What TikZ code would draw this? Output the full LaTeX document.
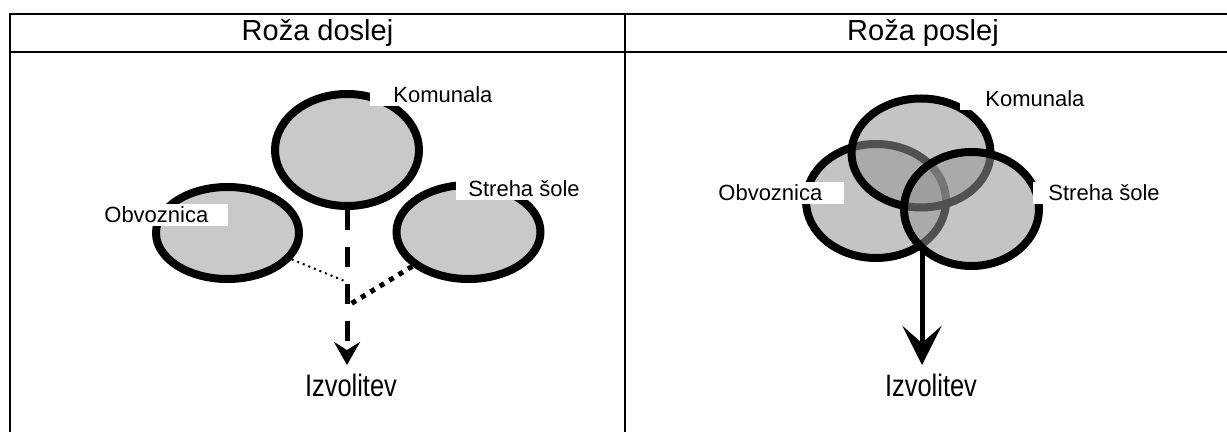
\documentclass[tikz,border=0pt]{standalone}
\usepackage{fontspec}
\setmainfont{Liberation Sans}
\newfontfamily\narrowfont[FakeStretch=0.82]{Liberation Sans}
\usetikzlibrary{shapes.geometric,arrows.meta}
\begin{document}
\begin{tikzpicture}[x=0.5pt,y=-0.5pt,
  frame/.style={line width=1pt,black},
  bubbleL/.style={ellipse,draw=black,line width=4pt,fill=black!21,inner sep=0pt},
  bubbleR/.style={ellipse,draw=black,line width=4pt,fill=black!42,fill opacity=0.55,inner sep=0pt},
  lbl/.style={fill=white,inner xsep=0pt,inner ysep=1.5pt,font=\fontsize{11pt}{13pt}\selectfont},
  head/.style={inner sep=0pt,font=\fontsize{14.5pt}{17pt}\selectfont},
  res/.style={inner sep=0pt,font=\narrowfont\fontsize{15.5pt}{18pt}\selectfont},
  dashline/.style={line width=2.5pt,dash pattern=on 10pt off 8.5pt,-{Stealth[length=11.5pt,width=13pt,inset=4pt]}},
  thindot/.style={line width=1pt,dash pattern=on 1pt off 2pt},
  thickdot/.style={line width=2.5pt,dash pattern=on 2.5pt off 3pt},
  solidarrow/.style={line width=2.5pt,-{Stealth[length=19.5pt,width=19.5pt,inset=8.5pt]}}
]
\useasboundingbox (0,0) rectangle (1227,432);
% table frame
\draw[frame] (10,432) -- (10,14) -- (1227,14);
\draw[frame] (10,52) -- (1227,52);
\draw[frame] (625,14) -- (625,432);
\node[head] (h1) at (317.5,33) {Roža doslej};
\node[head] (h2) at (923,33) {Roža poslej};

% left panel
\node[bubbleL,minimum width=72pt,minimum height=56pt] (KL) at (347,150) {};
\node[bubbleL,minimum width=71.5pt,minimum height=46pt] (OL) at (227.5,233) {};
\node[bubbleL,minimum width=72pt,minimum height=47pt] (SL) at (468.5,232) {};
\coordinate (jA) at (347,282);
\coordinate (jB) at (349,305);
\coordinate (tipL) at (347,365);
\draw[thindot] (OL) -- (jA);
\draw[thickdot] (SL) -- (jB);
\draw[dashline] (KL.south) -- (tipL);
\node[res,anchor=base] (iL) at (351,397) {Izvolitev};
\node[lbl,anchor=base west] (lKL) at (370,103) {\hspace*{11.5pt}Komunala};
\node[lbl,anchor=base west] (lOL) at (104,223) {Obvoznica\hspace*{10pt}};
\node[lbl,anchor=base west] (lSL) at (456,197) {\hspace*{6pt}Streha šole};

% right panel
\node[bubbleR,minimum width=70pt,minimum height=57pt] (OR) at (876,201) {};
\node[bubbleR,minimum width=69.5pt,minimum height=54.5pt] (KR) at (921,153) {};
\node[bubbleR,minimum width=67.5pt,minimum height=57pt] (SR) at (971.5,209) {};
\coordinate (startR) at (922,250);
\coordinate (tipR) at (922,365);
\draw[solidarrow] (startR) -- (tipR);
\node[res,anchor=base] (iR) at (931,397) {Izvolitev};
\node[lbl,anchor=base west] (lKR) at (960,107) {\hspace*{12.5pt}Komunala};
\node[lbl,anchor=base west] (lOR) at (718,201) {Obvoznica\hspace*{11pt}};
\node[lbl,anchor=base west] (lSR) at (1033,201) {\hspace*{7.5pt}Streha šole};
\end{tikzpicture}
\end{document}
